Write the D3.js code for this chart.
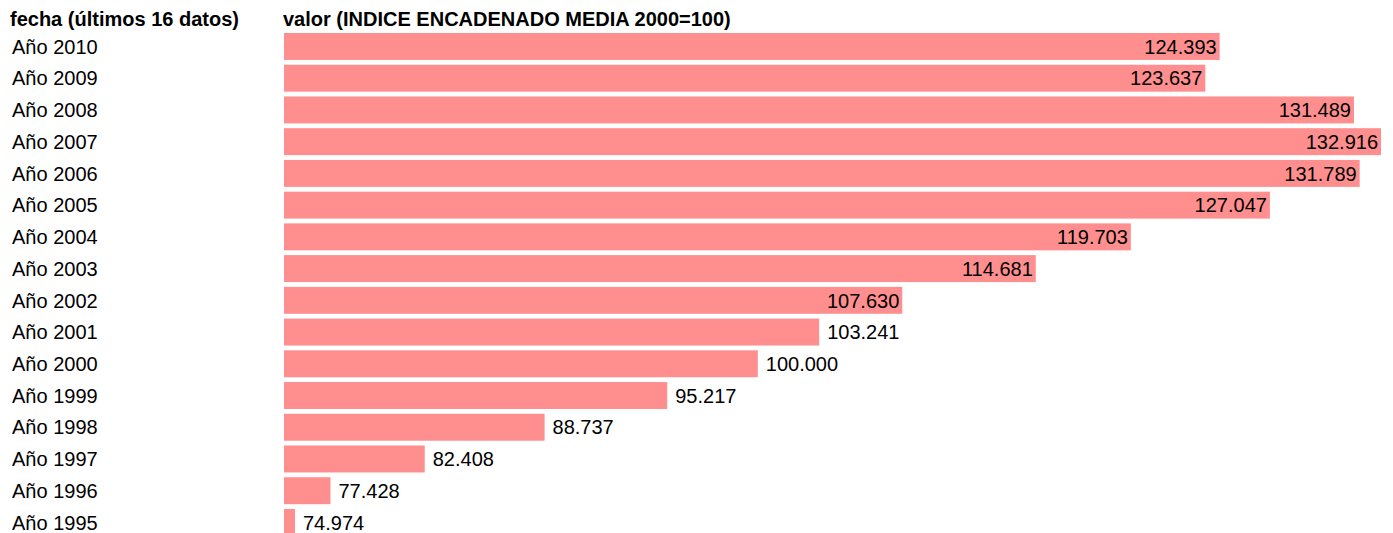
<!DOCTYPE html>
<html>
<head>
<meta charset="utf-8">
<script src="https://cdn.jsdelivr.net/npm/d3@7"></script>
<style>
  body { margin: 0; background: #fff; }
  svg { display: block; }
  text { font-family: "Liberation Sans", Arial, sans-serif; fill: #000; }
</style>
</head>
<body>
<svg id="chart" width="1393" height="533"></svg>
<script>
const categories = ["Año 2010","Año 2009","Año 2008","Año 2007","Año 2006","Año 2005","Año 2004","Año 2003","Año 2002","Año 2001","Año 2000","Año 1999","Año 1998","Año 1997","Año 1996","Año 1995"];
const values = [124.393,123.637,131.489,132.916,131.789,127.047,119.703,114.681,107.630,103.241,100.000,95.217,88.737,82.408,77.428,74.974];
const headerLeft = "fecha (últimos 16 datos)";
const headerRight = "valor (INDICE ENCADENADO MEDIA 2000=100)";

const svg = d3.select("#chart");
const fontSize = 20;
const x0 = 284, x1 = 1381;
const x = d3.scaleLinear().domain([d3.min(values), d3.max(values)]).range([x0, x1]);
const step = 31.73, pad = 0.15;
const y = d3.scaleBand().domain(categories)
  .range([33, 33 + step * (categories.length - pad)])
  .paddingInner(pad).paddingOuter(0);
const minW = 11;

svg.append("text").attr("x", 10).attr("y", 26).attr("font-size", fontSize).attr("font-weight", "bold").text(headerLeft);
svg.append("text").attr("x", 283).attr("y", 26).attr("font-size", fontSize).attr("font-weight", "bold").text(headerRight);

const rows = svg.append("g").selectAll("g").data(categories.map((c, i) => ({c, v: values[i]}))).join("g");

rows.append("text")
  .attr("x", 12)
  .attr("y", d => y(d.c) + y.bandwidth() / 2)
  .attr("dy", "0.36em")
  .attr("font-size", fontSize)
  .text(d => d.c);

rows.append("rect")
  .attr("x", x0)
  .attr("y", d => y(d.c))
  .attr("height", y.bandwidth())
  .attr("width", d => Math.max(x(d.v) - x0, minW))
  .attr("fill", "#ff8f8f");

const fmt = d3.format(".3f");
rows.append("text")
  .attr("y", d => y(d.c) + y.bandwidth() / 2)
  .attr("dy", "0.36em")
  .attr("font-size", fontSize)
  .each(function(d) {
    const w = Math.max(x(d.v) - x0, minW);
    const inside = w > (x1 - x0) / 2;
    d3.select(this)
      .attr("x", inside ? x0 + w - 3 : x0 + w + 8)
      .attr("text-anchor", inside ? "end" : "start");
  })
  .text(d => fmt(d.v));
</script>
</body>
</html>
